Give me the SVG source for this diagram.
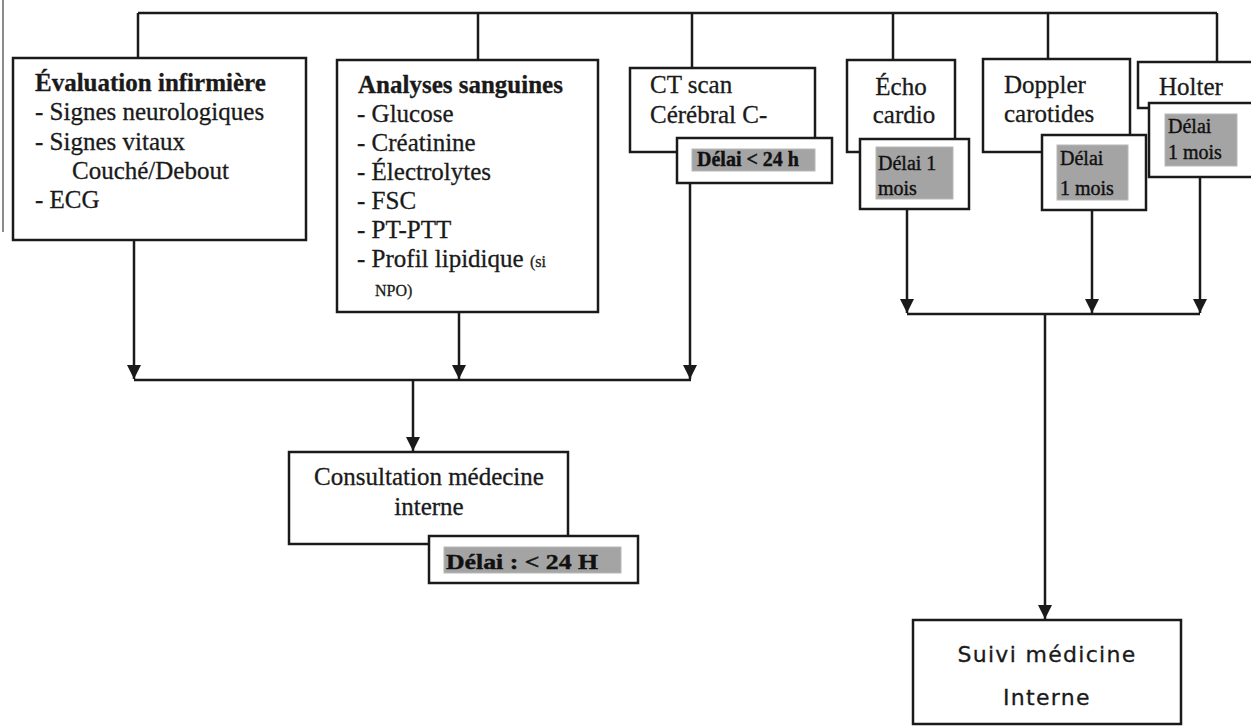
<svg xmlns="http://www.w3.org/2000/svg" width="1251" height="726" viewBox="0 0 1251 726">
<style>
.box{fill:#fff;stroke:#1a1a1a;stroke-width:2.5}
.ln{fill:none;stroke:#1a1a1a;stroke-width:2.5}
.t{font-family:"Liberation Serif","Times New Roman",serif;font-size:25px;fill:#1a1a1a;stroke:#1a1a1a;stroke-width:0.3}
.b{font-weight:bold}
.sm{font-size:16px}
.gray{fill:#a4a4a4;stroke:#b8b8b8;stroke-width:1}
.d{font-family:"Liberation Serif","Times New Roman",serif;font-size:20px;fill:#111;stroke:#111;stroke-width:0.4}
.s{font-family:"DejaVu Sans","Noto Sans",sans-serif;font-size:22px;letter-spacing:1.3px;fill:#1a1a1a;stroke:#1a1a1a;stroke-width:0.3}
</style>
<defs>
<marker id="arr" viewBox="0 0 14 14" refX="14" refY="7" markerWidth="14" markerHeight="14" markerUnits="userSpaceOnUse" orient="auto">
<path d="M0,0 L14,7 L0,14 Z" fill="#1a1a1a"/>
</marker>
</defs>
<rect width="1251" height="726" fill="#fff"/>
<g id="connectors">
<line x1="3" y1="0" x2="3" y2="232" stroke="#666" stroke-width="1.5"/>
<path class="ln" d="M138,13 H1217"/>
<path class="ln" d="M138,13 V58"/>
<path class="ln" d="M478,13 V60"/>
<path class="ln" d="M692,13 V68"/>
<path class="ln" d="M893,13 V60"/>
<path class="ln" d="M1048,13 V59"/>
<path class="ln" d="M1217,13 V62"/>
<path class="ln" d="M134,240 V379" marker-end="url(#arr)"/>
<path class="ln" d="M459,312 V379" marker-end="url(#arr)"/>
<path class="ln" d="M690,183 V379" marker-end="url(#arr)"/>
<path class="ln" d="M134,380 H691"/>
<path class="ln" d="M413,380 V451" marker-end="url(#arr)"/>
<path class="ln" d="M907,209 V313" marker-end="url(#arr)"/>
<path class="ln" d="M1092,210 V313" marker-end="url(#arr)"/>
<path class="ln" d="M1200,177 V313" marker-end="url(#arr)"/>
<path class="ln" d="M907,314 H1200"/>
<path class="ln" d="M1045,314 V619" marker-end="url(#arr)"/>
</g>
<g id="evaluation">
<rect class="box" x="13" y="58" width="293" height="182"/>
<text class="t b" x="35" y="91">Évaluation infirmière</text>
<text class="t" x="35" y="120">- Signes neurologiques</text>
<text class="t" x="35" y="150">- Signes vitaux</text>
<text class="t" x="72" y="179">Couché/Debout</text>
<text class="t" x="35" y="208">- ECG</text>
</g>
<g id="analyses">
<rect class="box" x="337" y="60" width="261" height="252"/>
<text class="t b" x="358" y="93">Analyses sanguines</text>
<text class="t" x="357" y="122">- Glucose</text>
<text class="t" x="357" y="151">- Créatinine</text>
<text class="t" x="357" y="180">- Électrolytes</text>
<text class="t" x="357" y="209">- FSC</text>
<text class="t" x="357" y="238">- PT-PTT</text>
<text class="t" x="357" y="267">- Profil lipidique <tspan class="sm">(si</tspan></text>
<text class="t sm" x="375" y="296">NPO)</text>
</g>
<g id="ctscan">
<rect class="box" x="630" y="68" width="185" height="84"/>
<text class="t" x="650" y="93">CT scan</text>
<text class="t" x="650" y="123">Cérébral C-</text>
<rect class="box" x="677" y="138" width="155" height="45"/>
<rect class="gray" x="692" y="149" width="123" height="22"/>
<text class="d b" x="697" y="166" font-size="17" textLength="102" lengthAdjust="spacingAndGlyphs">Délai &lt; 24 h</text>
</g>
<g id="echo">
<rect class="box" x="847" y="60" width="108" height="92"/>
<text class="t" x="901" y="95" text-anchor="middle">Écho</text>
<text class="t" x="904" y="123" text-anchor="middle">cardio</text>
<rect class="box" x="860" y="139" width="109" height="70"/>
<rect class="gray" x="876" y="147" width="77" height="52"/>
<text class="d" x="878" y="170">Délai 1</text>
<text class="d" x="878" y="195">mois</text>
</g>
<g id="doppler">
<rect class="box" x="983" y="59" width="147" height="93"/>
<text class="t" x="1004" y="93">Doppler</text>
<text class="t" x="1004" y="122">carotides</text>
<rect class="box" x="1042" y="135" width="104" height="75"/>
<rect class="gray" x="1057" y="145" width="71" height="55"/>
<text class="d" x="1060" y="165">Délai</text>
<text class="d" x="1060" y="195">1 mois</text>
</g>
<g id="holter">
<rect class="box" x="1138" y="62" width="120" height="46"/>
<text class="t" x="1159" y="95">Holter</text>
<rect class="box" x="1149" y="103" width="110" height="74"/>
<rect class="gray" x="1165" y="114" width="72" height="52"/>
<text class="d" x="1168" y="133">Délai</text>
<text class="d" x="1168" y="159">1 mois</text>
</g>
<g id="consultation">
<rect class="box" x="289" y="452" width="279" height="92"/>
<text class="t" x="429" y="485" text-anchor="middle">Consultation médecine</text>
<text class="t" x="429" y="515" text-anchor="middle">interne</text>
<rect class="box" x="429" y="536" width="209" height="47"/>
<rect class="gray" x="444" y="547" width="177" height="26"/>
<text class="d b" x="446" y="569" font-size="23" textLength="152" lengthAdjust="spacingAndGlyphs">Délai : &lt; 24 H</text>
</g>
<g id="suivi">
<rect class="box" x="913" y="620" width="268" height="104"/>
<text class="s" x="1047" y="662" text-anchor="middle">Suivi médicine</text>
<text class="s" x="1047" y="705" text-anchor="middle">Interne</text>
</g>
</svg>
